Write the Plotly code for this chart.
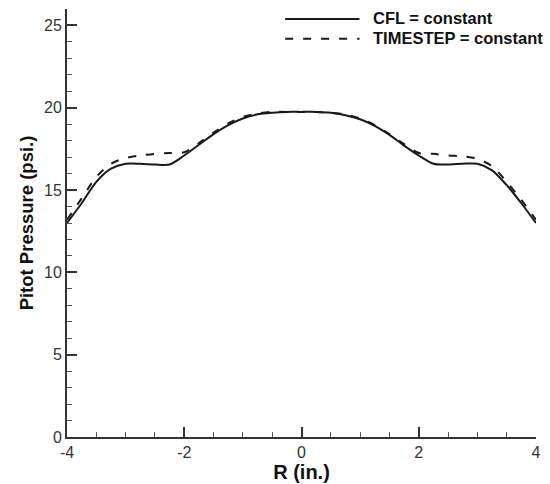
import plotly.graph_objects as go

r_in = [-4.0, -3.75, -3.5, -3.25, -3.0, -2.75, -2.5, -2.25, -2.0, -1.75, -1.5, -1.25, -1.0, -0.75, -0.5, -0.25, 0.0,
        0.25, 0.5, 0.75, 1.0, 1.25, 1.5, 1.75, 2.0, 2.25, 2.5, 2.75, 3.0, 3.25, 3.5, 3.75, 4.0]
cfl_const = [13.0, 14.2, 15.5, 16.3, 16.6, 16.6, 16.55, 16.55, 17.1, 17.75, 18.4, 18.95, 19.35, 19.6, 19.7, 19.75, 19.75,
             19.75, 19.7, 19.55, 19.3, 18.9, 18.35, 17.7, 17.1, 16.6, 16.55, 16.6, 16.6, 16.2, 15.3, 14.2, 13.0]
timestep_const = [13.2, 14.5, 15.8, 16.6, 16.95, 17.1, 17.2, 17.25, 17.3, 17.85, 18.5, 19.05, 19.45, 19.65, 19.75, 19.75, 19.75,
                  19.75, 19.7, 19.6, 19.35, 18.95, 18.4, 17.8, 17.25, 17.2, 17.1, 17.05, 16.9, 16.45, 15.5, 14.4, 13.2]

legend_labels = ["CFL = constant", "TIMESTEP = constant"]

FONT = "Liberation Sans, Arial, sans-serif"

fig = go.Figure()
fig.add_trace(go.Scatter(x=r_in, y=cfl_const, mode="lines", line=dict(color="#1a1a1a", width=2, shape="spline", smoothing=0.8),
                         name=legend_labels[0], showlegend=False))
fig.add_trace(go.Scatter(x=r_in, y=timestep_const, mode="lines",
                         line=dict(color="#1a1a1a", width=2, dash="8px,10px", shape="spline", smoothing=0.8),
                         name=legend_labels[1], showlegend=False))

axis_common = dict(showgrid=False, zeroline=False, showline=True, linecolor="#333", linewidth=2,
                   ticks="inside", ticklen=10, tickwidth=2, tickcolor="#333",
                   tickfont=dict(family=FONT, size=16, color="#333"),
                   mirror=False)

fig.update_xaxes(range=[-4, 4], tickmode="array", tickvals=[-4, -2, 0, 2, 4], ticktext=["-4", "-2", "0", "2", "4"],
                 minor=dict(ticks="inside", ticklen=5, tickwidth=1, tickcolor="#555", dtick=0.5, showgrid=False),
                 title=dict(text="<b>R (in.)</b>", font=dict(family=FONT, size=20, color="#111"), standoff=0),
                 **axis_common)
fig.update_yaxes(range=[0, 26], tickmode="array", tickvals=[0, 5, 10, 15, 20, 25],
                 minor=dict(ticks="inside", ticklen=5, tickwidth=1, tickcolor="#555", dtick=1, showgrid=False),
                 title=dict(text="<b>Pitot Pressure (psi.)</b>", font=dict(family=FONT, size=18.5, color="#111"), standoff=6),
                 **axis_common)

# custom legend
fig.add_shape(type="line", xref="paper", yref="paper", x0=(287-67)/473, x1=(362-67)/473, y0=(440-19)/431, y1=(440-19)/431,
              line=dict(color="#1a1a1a", width=2))
fig.add_shape(type="line", xref="paper", yref="paper", x0=(287-67)/473, x1=(362-67)/473, y0=(440-39)/431, y1=(440-39)/431,
              line=dict(color="#1a1a1a", width=2, dash="8px,10px"))
for i, lab in enumerate(legend_labels):
    fig.add_annotation(xref="paper", yref="paper", x=(374-67)/473, y=(440-(18 + 20*i))/431, text="<b>%s</b>" % lab,
                       showarrow=False, xanchor="left", yanchor="middle",
                       font=dict(family=FONT, size=16.5, color="#111"))

fig.update_layout(width=550, height=484, margin=dict(l=67, r=10, t=9, b=44),
                  plot_bgcolor="white", paper_bgcolor="white")

fig.write_html("out.html")
